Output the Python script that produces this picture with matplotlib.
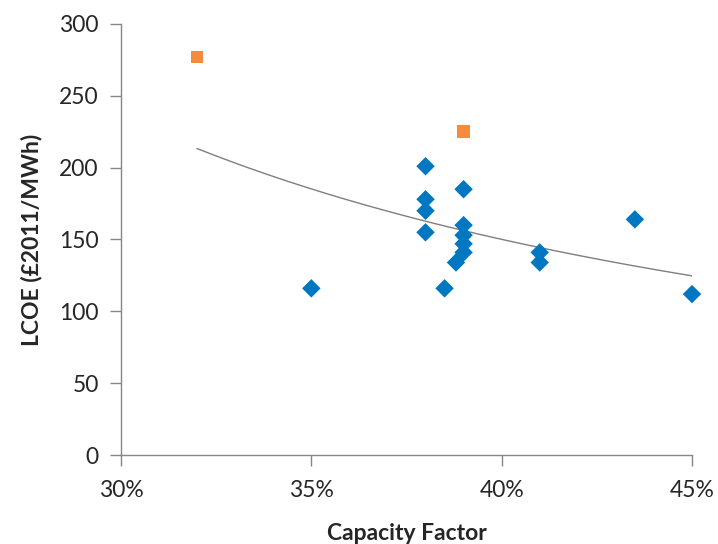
import matplotlib
matplotlib.use("Agg")
import matplotlib.pyplot as plt
from matplotlib.ticker import FuncFormatter
import numpy as np

# capacity factor (%) and LCOE (GBP2011/MWh)
blue_cf = [35, 38, 38, 38, 38, 38.5, 38.8, 39, 39, 39, 39, 39, 41, 41, 43.5, 45]
blue_lcoe = [116, 201, 178, 170, 155, 116, 134, 185, 160, 153, 147, 141, 141, 134, 164, 112]
orange_cf = [32, 39]
orange_lcoe = [277, 225]

x_ticks = [30, 35, 40, 45]
y_ticks = [0, 50, 100, 150, 200, 250, 300]

plt.rcParams['font.family'] = ['Lato', 'DejaVu Sans']
axis_col = "#868686"

fig = plt.figure(figsize=(7.18, 5.44), dpi=100)
ax = fig.add_axes([0.1685, 0.1636, 0.7953, 0.7923])

# power trendline fitted to all points (Excel style)
all_x = np.array(blue_cf + orange_cf, dtype=float)
all_y = np.array(blue_lcoe + orange_lcoe, dtype=float)
b, lna = np.polyfit(np.log(all_x), np.log(all_y), 1)
xt = np.linspace(all_x.min(), all_x.max(), 200)
ax.plot(xt, np.exp(lna) * xt ** b, color="#7F7F7F", lw=1.0, zorder=1)

ax.scatter(blue_cf, blue_lcoe, marker="D", s=9.4 ** 2, color="#0078C1",
           edgecolors="none", zorder=3, clip_on=False)
ax.scatter(orange_cf, orange_lcoe, marker="s", s=9.0 ** 2, color="#F88A3C",
           edgecolors="none", zorder=3, clip_on=False)

ax.set_xlim(30, 45)
ax.set_ylim(0, 300)
ax.set_xticks(x_ticks)
ax.set_yticks(y_ticks)
ax.xaxis.set_major_formatter(FuncFormatter(lambda v, p: f"{v:.0f}%"))

for s in ("top", "right"):
    ax.spines[s].set_visible(False)
for s in ("left", "bottom"):
    ax.spines[s].set_color(axis_col)
    ax.spines[s].set_linewidth(1.0)
ax.tick_params(axis="both", direction="out", length=8, width=1.0,
               color=axis_col, labelsize=16.5, labelcolor="#262626")
ax.tick_params(axis="x", pad=10)
ax.tick_params(axis="y", pad=8)

ax.set_xlabel("Capacity Factor", fontsize=16.5, fontweight="bold",
              color="#262626", labelpad=16)
ax.set_ylabel("LCOE (£2011/MWh)", fontsize=16.5, fontweight="bold",
              color="#262626", labelpad=12)

fig.savefig("out.png", dpi=100)
